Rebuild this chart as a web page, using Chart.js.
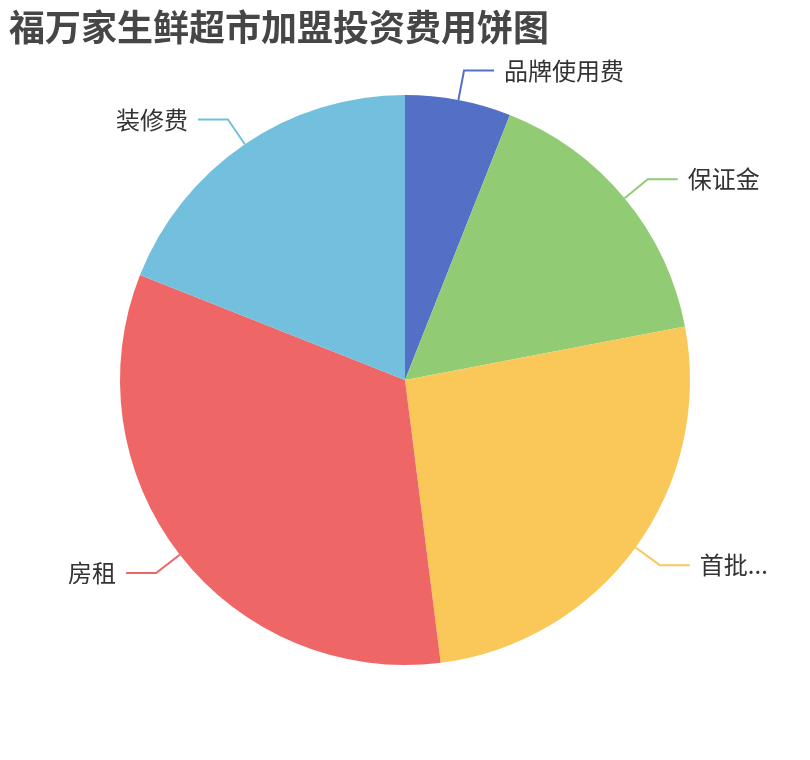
<!DOCTYPE html>
<html>
<head>
<meta charset="utf-8">
<script src="https://cdn.jsdelivr.net/npm/chart.js@4.4.0/dist/chart.umd.min.js"></script>
<style>
  html, body { margin: 0; padding: 0; background: #ffffff; }
  #wrap { position: relative; width: 810px; height: 760px; }
  #title { position: absolute; left: 9px; top: 2px; font-family: "Noto Sans CJK SC", sans-serif; font-weight: bold; font-size: 36px; color: #464646; line-height: 46px; white-space: nowrap; }
  canvas { position: absolute; left: 0; top: 0; }
</style>
</head>
<body>
<div id="wrap">
  <canvas id="c" width="810" height="760"></canvas>
  <div id="title">福万家生鲜超市加盟投资费用饼图</div>
</div>
<script>
const categories = ["品牌使用费", "保证金", "首批...", "房租", "装修费"];
const values = [6, 16, 26, 33, 19];
const colors = ["#5470c6", "#91cc75", "#fac858", "#ee6666", "#73c0de"];

const outsideLabels = {
  id: 'outsideLabels',
  afterDatasetsDraw(chart) {
    const ctx = chart.ctx;
    const meta = chart.getDatasetMeta(0);
    const len1 = 30, len2 = 30, gap = 10;
    ctx.save();
    ctx.font = '24px "Noto Sans CJK SC", sans-serif';
    ctx.textBaseline = 'middle';
    meta.data.forEach((arc, i) => {
      const p = arc.getProps(['x', 'y', 'startAngle', 'endAngle', 'outerRadius'], true);
      const mid = (p.startAngle + p.endAngle) / 2;
      const cos = Math.cos(mid), sin = Math.sin(mid);
      const x0 = p.x + cos * p.outerRadius, y0 = p.y + sin * p.outerRadius;
      const x1 = p.x + cos * (p.outerRadius + len1), y1 = p.y + sin * (p.outerRadius + len1);
      const dir = cos >= 0 ? 1 : -1;
      const x2 = x1 + dir * len2;
      ctx.strokeStyle = colors[i];
      ctx.lineWidth = 2;
      ctx.beginPath();
      ctx.moveTo(x0, y0);
      ctx.lineTo(x1, y1);
      ctx.lineTo(x2, y1);
      ctx.stroke();
      ctx.fillStyle = '#333333';
      ctx.textAlign = dir > 0 ? 'left' : 'right';
      ctx.fillText(chart.data.labels[i], x2 + dir * gap, y1);
    });
    ctx.restore();
  }
};

new Chart(document.getElementById('c'), {
  type: 'pie',
  data: {
    labels: categories,
    datasets: [{
      data: values,
      backgroundColor: colors,
      borderWidth: 0
    }]
  },
  options: {
    responsive: false,
    animation: false,
    layout: { padding: { left: 120, right: 120, top: 95, bottom: 95 } },
    plugins: {
      legend: { display: false },
      tooltip: { enabled: false },
      title: { display: false }
    }
  },
  plugins: [outsideLabels]
});
</script>
</body>
</html>
